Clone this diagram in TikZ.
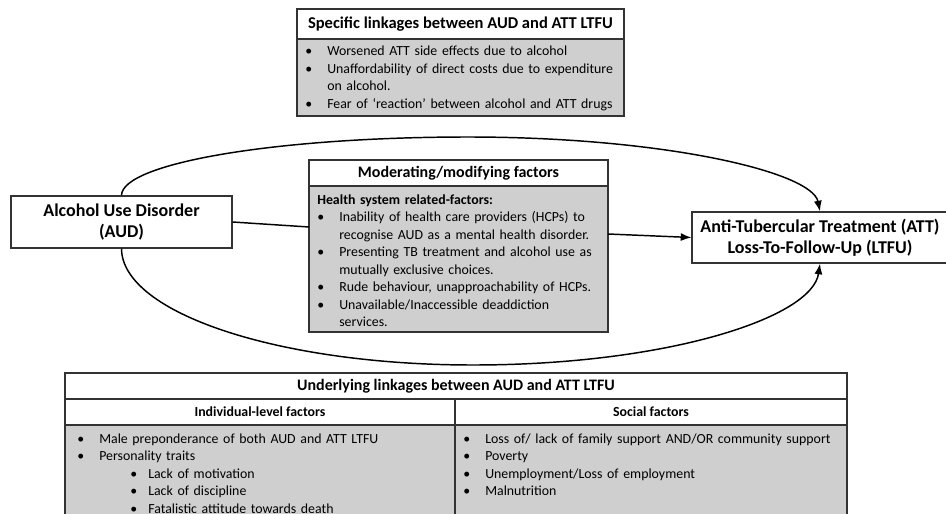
\documentclass[tikz,border=0pt]{standalone}
\usepackage{fontspec}
\setmainfont{Carlito}
\usetikzlibrary{arrows.meta}

\newcommand{\bitem}[1]{\noindent\hangindent=16.5pt\hangafter=1\makebox[16.5pt][l]{\textbullet}#1\par}
\newcommand{\bsubitem}[1]{\noindent\hangindent=53.25pt\hangafter=1\hspace*{39.75pt}\makebox[13.5pt][l]{\textbullet}#1\par}

\begin{document}
\begin{tikzpicture}[x=0.75pt,y=-0.75pt,
    box/.style={draw=black!80, line width=0.9pt, inner sep=0pt},
    headbox/.style={box, fill=white, font=\bfseries\fontsize{12}{14}\selectfont},
    greybox/.style={box, fill=black!19},
    mainbox/.style={box, fill=white, align=center, font=\bfseries\fontsize{13.5}{16}\selectfont},
    listtext/.style={anchor=base west, inner sep=0pt, align=left, text width=300pt, font=\fontsize{10.4}{13.1}\selectfont},
    link/.style={line width=1.1pt, -{Latex[length=8pt,width=6pt]}}]
    \clip (0,0) rectangle (946,514);
    \fill[white] (0,0) rectangle (946,514);
    %specific linkages
    \node[headbox, font=\bfseries\fontsize{12.4}{14}\selectfont, minimum width=245.25pt, minimum height=22.5pt] (spechead) at (460.5,24) {Specific linkages between AUD and ATT LTFU};
    \node[greybox, minimum width=245.25pt, minimum height=57.75pt] (specbody) at (460.5,77.5) {};
    \node[listtext, font=\fontsize{10.4}{13.25}\selectfont] (spectext) at (305,55.5) {%
        \bitem{Worsened ATT side effects due to alcohol}
        \bitem{Unaffordability of direct costs due to expenditure\newline on alcohol.}
        \bitem{Fear of ‘reaction’ between alcohol and ATT drugs}};
    %main boxes
    \node[mainbox, minimum width=165.75pt, minimum height=39pt] (aud) at (121.5,222) {Alcohol Use Disorder\\(AUD)};
    \node[mainbox, minimum width=192pt, minimum height=38.25pt] (att) at (820,237.5) {Anti-Tubercular Treatment (ATT)\\Loss-To-Follow-Up (LTFU)};
    %moderating factors
    \node[headbox, minimum width=224.25pt, minimum height=19.5pt] (modhead) at (458.5,173) {Moderating/modifying factors};
    \node[greybox, minimum width=224.25pt, minimum height=109.5pt] (modbody) at (458.5,259) {};
    \node[listtext] (modtext) at (317,204.5) {%
        \noindent\textbf{Health system related-factors:}\par
        \bitem{Inability of health care providers (HCPs) to\newline recognise AUD as a mental health disorder.}
        \bitem{Presenting TB treatment and alcohol use as\newline mutually exclusive choices.}
        \bitem{Rude behaviour, unapproachability of HCPs.}
        \bitem{Unavailable/Inaccessible deaddiction\newline services.}};
    %underlying linkages
    \node[headbox, minimum width=586.5pt, minimum height=19.5pt] (underhead) at (456,386) {Underlying linkages between AUD and ATT LTFU};
    \node[headbox, font=\bfseries\fontsize{10.4}{12}\selectfont, minimum width=292.5pt, minimum height=19.5pt] (indivhead) at (260,412) {Individual-level factors};
    \node[headbox, font=\bfseries\fontsize{10.4}{12}\selectfont, minimum width=294pt, minimum height=19.5pt] (socialhead) at (651,412) {Social factors};
    \node[greybox, minimum width=292.5pt, minimum height=86.25pt] (indivbody) at (260,482.5) {};
    \node[greybox, minimum width=294pt, minimum height=86.25pt] (socialbody) at (651,482.5) {};
    \node[listtext] (indivtext) at (77,443.5) {%
        \bitem{Male preponderance of both AUD and ATT LTFU}
        \bitem{Personality traits}
        \bsubitem{Lack of motivation}
        \bsubitem{Lack of discipline}
        \bsubitem{Fatalistic attitude towards death}};
    \node[listtext] (socialtext) at (463,443.5) {%
        \bitem{Loss of/ lack of family support AND/OR community support}
        \bitem{Poverty}
        \bitem{Unemployment/Loss of employment}
        \bitem{Malnutrition}};
    %connectors
    \coordinate (modin) at (309,227);
    \coordinate (modout) at (608,234);
    \draw[line width=1.1pt] (aud.east) -- (modin);
    \draw[link] (modout) -- (att.west);
    %upper and lower arcs
    \draw[link] (aud.north) .. controls (122,163) and (277,137) .. (468,137)
        .. controls (664,137) and (812,172) .. (att.north);
    \draw[link] (aud.south) .. controls (122,313) and (279,365) .. (473,365)
        .. controls (666,365) and (812,318) .. (att.south);
\end{tikzpicture}
\end{document}
